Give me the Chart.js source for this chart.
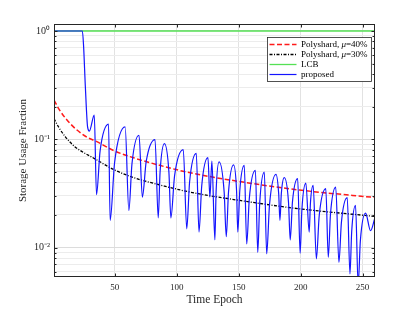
<!DOCTYPE html>
<html><head><meta charset="utf-8">
<script src="https://cdn.jsdelivr.net/npm/chart.js@4/dist/chart.umd.min.js"></script>
<style>html,body{margin:0;padding:0;background:#fff}#wrap{width:415px;height:312px}</style>
</head><body><div id="wrap"><canvas id="c" width="415" height="312"></canvas></div>
<script>
// ---- data ----
const xTickValues = [50, 100, 150, 200, 250];
const yDecades = [0.01, 0.1, 1];
const yMinorTicks = [0.006, 0.007, 0.008, 0.009, 0.02, 0.03, 0.04, 0.05, 0.06, 0.07, 0.08, 0.09, 0.2, 0.3, 0.4, 0.5, 0.6, 0.7, 0.8, 0.9];

const p40Epoch = [1, 5, 10, 18, 28, 34, 50, 66, 90, 111, 155, 199, 260];
const p40Value = [0.230, 0.190, 0.158, 0.126, 0.104, 0.097, 0.078, 0.067, 0.056, 0.049, 0.040, 0.034, 0.029];

const p30Epoch = [1, 5, 10, 18, 22, 34, 50, 66, 90, 111, 155, 199, 260];
const p30Value = [0.155, 0.128, 0.106, 0.085, 0.079, 0.066, 0.052, 0.044, 0.037, 0.0325, 0.0268, 0.0228, 0.0194];

const lcbEpoch = [1, 260];
const lcbValue = [1, 1];

const propEpoch = [1, 23.9, 24.9, 26.3, 28.1, 29.5, 33.5, 35.3, 38.2, 45.0,
  46.3, 49.9, 58.4, 61.4, 63.9, 69.6, 72.3, 75.4, 82.5, 85.1,
  86.6, 90.1, 93.7, 95.3, 98.3, 105.3, 108.1, 110.4, 115.8, 118.0,
  120.2, 125.2, 126.8, 128.4, 130.8, 131.8, 134.2, 138.3, 140.0, 141.8,
  145.9, 148.3, 149.3, 150.9, 154.5, 156.5, 158.6, 163.5, 165.4, 167.0,
  170.7, 172.6, 174.9, 180.1, 182.3, 183.3, 184.4, 186.8, 190.2, 191.6,
  193.4, 197.6, 199.6, 201.0, 204.2, 206.9, 207.9, 210.1, 212.7, 215.0,
  220.3, 222.3, 224.1, 228.3, 230.9, 232.9, 237.6, 239.8, 241.2, 244.3,
  246.4, 248.2, 252.4, 256.4, 260];
const propValue = [1, 1, 0.716, 0.305, 0.130, 0.119, 0.167, 0.0308, 0.0782, 0.138,
  0.0178, 0.0611, 0.130, 0.0220, 0.0593, 0.109, 0.0292, 0.0624, 0.0994, 0.0188,
  0.0500, 0.0912, 0.0500, 0.0188, 0.0462, 0.0803, 0.0149, 0.0403, 0.0742, 0.0139,
  0.0372, 0.0677, 0.0292, 0.0630, 0.0118, 0.0330, 0.0619, 0.0325, 0.0126, 0.0325,
  0.0581, 0.0335, 0.0139, 0.0335, 0.0574, 0.0108, 0.0285, 0.0516, 0.00904, 0.0260,
  0.0498, 0.00874, 0.0249, 0.0474, 0.0313, 0.0178, 0.0313, 0.0442, 0.0264, 0.0118,
  0.0264, 0.0433, 0.00886, 0.0223, 0.0394, 0.0139, 0.0257, 0.0375, 0.00786, 0.0198,
  0.0350, 0.00813, 0.0205, 0.0362, 0.00731, 0.0171, 0.0289, 0.00570, 0.0141, 0.0245,
  0.0045, 0.0116, 0.0208, 0.0143, 0.0190];

const seriesLabels = ['Polyshard, \u03bc=40%', 'Polyshard, \u03bc=30%', 'LCB', 'proposed'];

// ---- helpers ----
const toXY = (xs, ys) => xs.map((x, i) => ({x: x, y: ys[i]}));
const isDecade = v => Math.abs(Math.log10(v) - Math.round(Math.log10(v))) < 1e-9;
const SUP = {'0':'\u2070','1':'\u00b9','2':'\u00b2','-':'\u207b'};
const decadeLabel = v => '10' + String(Math.round(Math.log10(v))).split('').map(c => SUP[c]).join('');

const SERIF = "'Liberation Serif', 'Times New Roman', serif";
const TXT = '#262626';
const styles = [
  {color:'#ff1a1a', dash:[5,2.5], width:1.5},
  {color:'#000000', dash:[3,1.5,1,1.5], width:1.3},
  {color:'#55e055', dash:[], width:1.3},
  {color:'#1414ff', dash:[], width:1.2}
];

const framePlugin = {
  id: 'frame',
  afterDraw(chart) {
    const {ctx, chartArea: a, scales: {x, y}} = chart;
    ctx.save();
    const L = Math.round(a.left) + 0.5, R = Math.round(a.right) - 0.5;
    const T = Math.round(a.top) + 0.5, B = Math.round(a.bottom) - 0.5;
    ctx.strokeStyle = '#262626';
    ctx.lineWidth = 1;
    ctx.strokeRect(L, T, R - L, B - T);
    ctx.beginPath();
    x.ticks.forEach(t => {
      const px = Math.round(x.getPixelForValue(t.value)) + 0.5;
      ctx.moveTo(px, B); ctx.lineTo(px, B - 3);
      ctx.moveTo(px, T); ctx.lineTo(px, T + 3);
    });
    y.ticks.forEach(t => {
      const py = Math.round(y.getPixelForValue(t.value)) + 0.5;
      const len = isDecade(t.value) ? 3 : 2;
      ctx.moveTo(L, py); ctx.lineTo(L + len, py);
      ctx.moveTo(R, py); ctx.lineTo(R - len, py);
    });
    ctx.stroke();

    // legend box (top-right, inside the axes)
    const bx = 267.5, by = 37.5, bw = 104, bh = 44;
    ctx.fillStyle = '#ffffff';
    ctx.fillRect(bx, by, bw, bh);
    ctx.lineWidth = 0.8;
    ctx.strokeStyle = '#262626';
    ctx.strokeRect(bx, by, bw, bh);
    ctx.textBaseline = 'middle';
    seriesLabels.forEach((lab, i) => {
      const yy = by + 7 + i * 10;
      const st = styles[i];
      ctx.beginPath();
      ctx.setLineDash(st.dash);
      ctx.strokeStyle = st.color;
      ctx.lineWidth = st.width;
      ctx.moveTo(bx + 2, yy); ctx.lineTo(bx + 29, yy);
      ctx.stroke();
      ctx.setLineDash([]);
      ctx.fillStyle = '#000';
      let tx = bx + 33.5;
      const mu = lab.indexOf('\u03bc');
      if (mu >= 0) {
        const a1 = lab.slice(0, mu), a2 = lab.slice(mu + 1);
        ctx.font = '9px ' + SERIF;
        ctx.fillText(a1, tx, yy); tx += ctx.measureText(a1).width;
        ctx.font = 'italic 9px ' + SERIF;
        ctx.fillText('\u03bc', tx, yy); tx += ctx.measureText('\u03bc').width;
        ctx.font = '9px ' + SERIF;
        ctx.fillText(a2, tx, yy);
      } else {
        ctx.font = '9px ' + SERIF;
        ctx.fillText(lab, tx, yy);
      }
    });
    ctx.restore();
  }
};

const datasets = [
  {data: toXY(p40Epoch, p40Value), order: 1},
  {data: toXY(p30Epoch, p30Value), order: 2},
  {data: toXY(lcbEpoch, lcbValue), order: 3},
  {data: toXY(propEpoch, propValue), order: 0}
].map((d, i) => Object.assign(d, {
  label: seriesLabels[i],
  borderColor: styles[i].color,
  borderDash: styles[i].dash,
  borderWidth: styles[i].width,
  pointRadius: 0,
  fill: false,
  cubicInterpolationMode: 'monotone'
}));

new Chart(document.getElementById('c').getContext('2d'), {
  type: 'line',
  data: {datasets: datasets},
  options: {
    responsive: false,
    animation: false,
    devicePixelRatio: 1,
    layout: {padding: {left: 0, right: 40, top: 24, bottom: 0}},
    plugins: {legend: {display: false}, tooltip: {enabled: false}},
    scales: {
      x: {
        type: 'linear', min: 1, max: 260,
        afterBuildTicks: s => { s.ticks = xTickValues.map(v => ({value: v})); },
        afterFit: s => { s.height = 35; },
        grid: {color: '#e2e2e2', drawTicks: false, lineWidth: 1},
        border: {display: false},
        ticks: {font: {family: SERIF, size: 9}, color: TXT, padding: 5, maxRotation: 0, autoSkip: false},
        title: {display: true, text: 'Time Epoch', color: TXT, font: {family: SERIF, size: 11.5}, padding: {top: 0, bottom: 5}}
      },
      y: {
        type: 'logarithmic', min: 0.00535, max: 1.16,
        afterBuildTicks: s => {
          s.ticks = yMinorTicks.concat(yDecades).sort((a, b) => a - b).map(v => ({value: v, major: isDecade(v)}));
        },
        afterFit: s => { s.width = 54; },
        grid: {
          color: c => (c.tick && isDecade(c.tick.value)) ? '#dcdcdc' : '#ececec',
          drawTicks: false, lineWidth: 1
        },
        border: {display: false},
        ticks: {
          font: {family: SERIF, size: 10}, color: TXT, padding: 4, autoSkip: false,
          callback: v => isDecade(v) ? decadeLabel(v) : ''
        },
        title: {display: true, text: 'Storage Usage Fraction', color: TXT, font: {family: SERIF, size: 11}, padding: {top: 17, bottom: 0}}
      }
    }
  },
  plugins: [framePlugin]
});
</script>
</body></html>
